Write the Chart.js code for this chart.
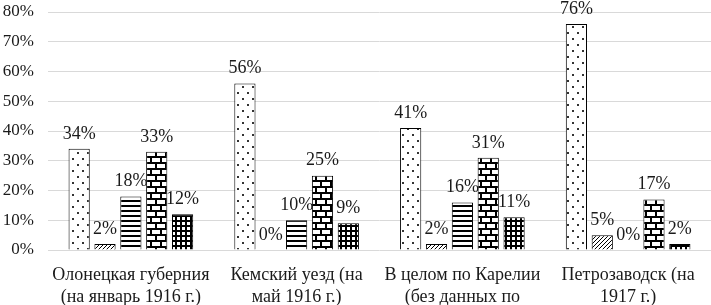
<!DOCTYPE html>
<html><head><meta charset="utf-8">
<script src="https://cdn.jsdelivr.net/npm/chart.js@4"></script>
<style>html,body{margin:0;padding:0;background:#fff;}#wrap{width:711px;height:305px;}</style>
</head><body><div id="wrap"><canvas id="c" width="711" height="305"></canvas></div>
<script>
const categories = [
  ["Олонецкая губерния", "(на январь 1916 г.)"],
  ["Кемский уезд (на", "май 1916 г.)"],
  ["В целом по Карелии", "(без данных по", "Петрозаводску)"],
  ["Петрозаводск (на", "1917 г.)"]
];
const seriesDots  = [34, 56, 41, 76];
const seriesDiag  = [2, 0, 2, 5];
const seriesHoriz = [18, 10, 16, 0];
const seriesBrick = [33, 25, 31, 17];
const seriesGrid  = [12, 9, 11, 2];
const yTicks = [0, 10, 20, 30, 40, 50, 60, 70, 80];

function tile(w, h, draw) {
  const c = document.createElement('canvas');
  c.width = w; c.height = h;
  const g = c.getContext('2d');
  g.fillStyle = '#fff'; g.fillRect(0, 0, w, h);
  g.fillStyle = '#000'; g.strokeStyle = '#000';
  draw(g);
  return document.getElementById('c').getContext('2d').createPattern(c, 'repeat');
}
const pDots = tile(10, 12, g => { g.fillStyle = '#333'; g.fillRect(2, 2, 2, 2); g.fillRect(7, 8, 2, 2); });
const pDiag = tile(4, 4, g => { g.lineWidth = 1; g.beginPath(); g.moveTo(0, 4); g.lineTo(4, 0); g.moveTo(-1, 1); g.lineTo(1, -1); g.moveTo(3, 5); g.lineTo(5, 3); g.stroke(); });
const pHoriz = tile(4, 5, g => { g.fillRect(0, 0, 4, 2); });
const pBrick = tile(10, 12, g => { g.fillRect(0, 0, 10, 2); g.fillRect(0, 6, 10, 2); g.fillRect(0, 0, 2, 6); g.fillRect(5, 6, 2, 6); });
const pGrid = tile(5, 5, g => { g.fillRect(0, 0, 5, 2); g.fillRect(0, 0, 2, 5); });

const fontFam = '"Liberation Serif", "Times New Roman", serif';
const txtColor = '#1a1a1a';

const labelPlugin = {
  id: 'vals',
  afterDatasetsDraw(chart) {
    const ctx = chart.ctx;
    ctx.save();
    ctx.font = '18px ' + fontFam;
    ctx.fillStyle = txtColor;
    ctx.textAlign = 'center';
    ctx.textBaseline = 'bottom';
    chart.data.datasets.forEach((ds, i) => {
      const meta = chart.getDatasetMeta(i);
      meta.data.forEach((bar, j) => {
        ctx.fillText(ds.data[j] + '%', bar.x, bar.y - 6);
      });
    });
    ctx.restore();
  }
};

const mk = (label, data, bg) => ({ label, data, backgroundColor: bg, borderColor: '#000', borderWidth: 1, barPercentage: 0.82, categoryPercentage: 0.78 });

new Chart(document.getElementById('c'), {
  type: 'bar',
  data: {
    labels: categories,
    datasets: [
      mk('s1', seriesDots, pDots),
      mk('s2', seriesDiag, pDiag),
      mk('s3', seriesHoriz, pHoriz),
      mk('s4', seriesBrick, pBrick),
      mk('s5', seriesGrid, pGrid)
    ]
  },
  options: {
    responsive: false,
    animation: false,
    devicePixelRatio: 1,
    layout: { padding: { top: 12, right: 0, left: 0, bottom: 0 } },
    plugins: { legend: { display: false }, tooltip: { enabled: false } },
    scales: {
      x: {
        grid: { display: false, drawTicks: false },
        border: { display: false },
        ticks: { font: { family: fontFam, size: 18, lineHeight: 1.22 }, color: txtColor, padding: 14, maxRotation: 0, autoSkip: false },
        afterFit(s) { s.height = 55; s.paddingLeft = 0; s.paddingRight = 0; }
      },
      y: {
        min: 0, max: 80,
        afterBuildTicks(s) { s.ticks = yTicks.map(v => ({ value: v })); },
        grid: { color: '#d9d9d9', drawTicks: false, lineWidth: 1 },
        border: { display: false },
        ticks: { font: { family: fontFam, size: 17 }, color: txtColor, padding: 14, callback: v => v + '%' },
        afterFit(s) { s.width = 48; s.paddingTop = 0; s.paddingBottom = 0; }
      }
    }
  },
  plugins: [labelPlugin]
});
</script>
</body></html>
